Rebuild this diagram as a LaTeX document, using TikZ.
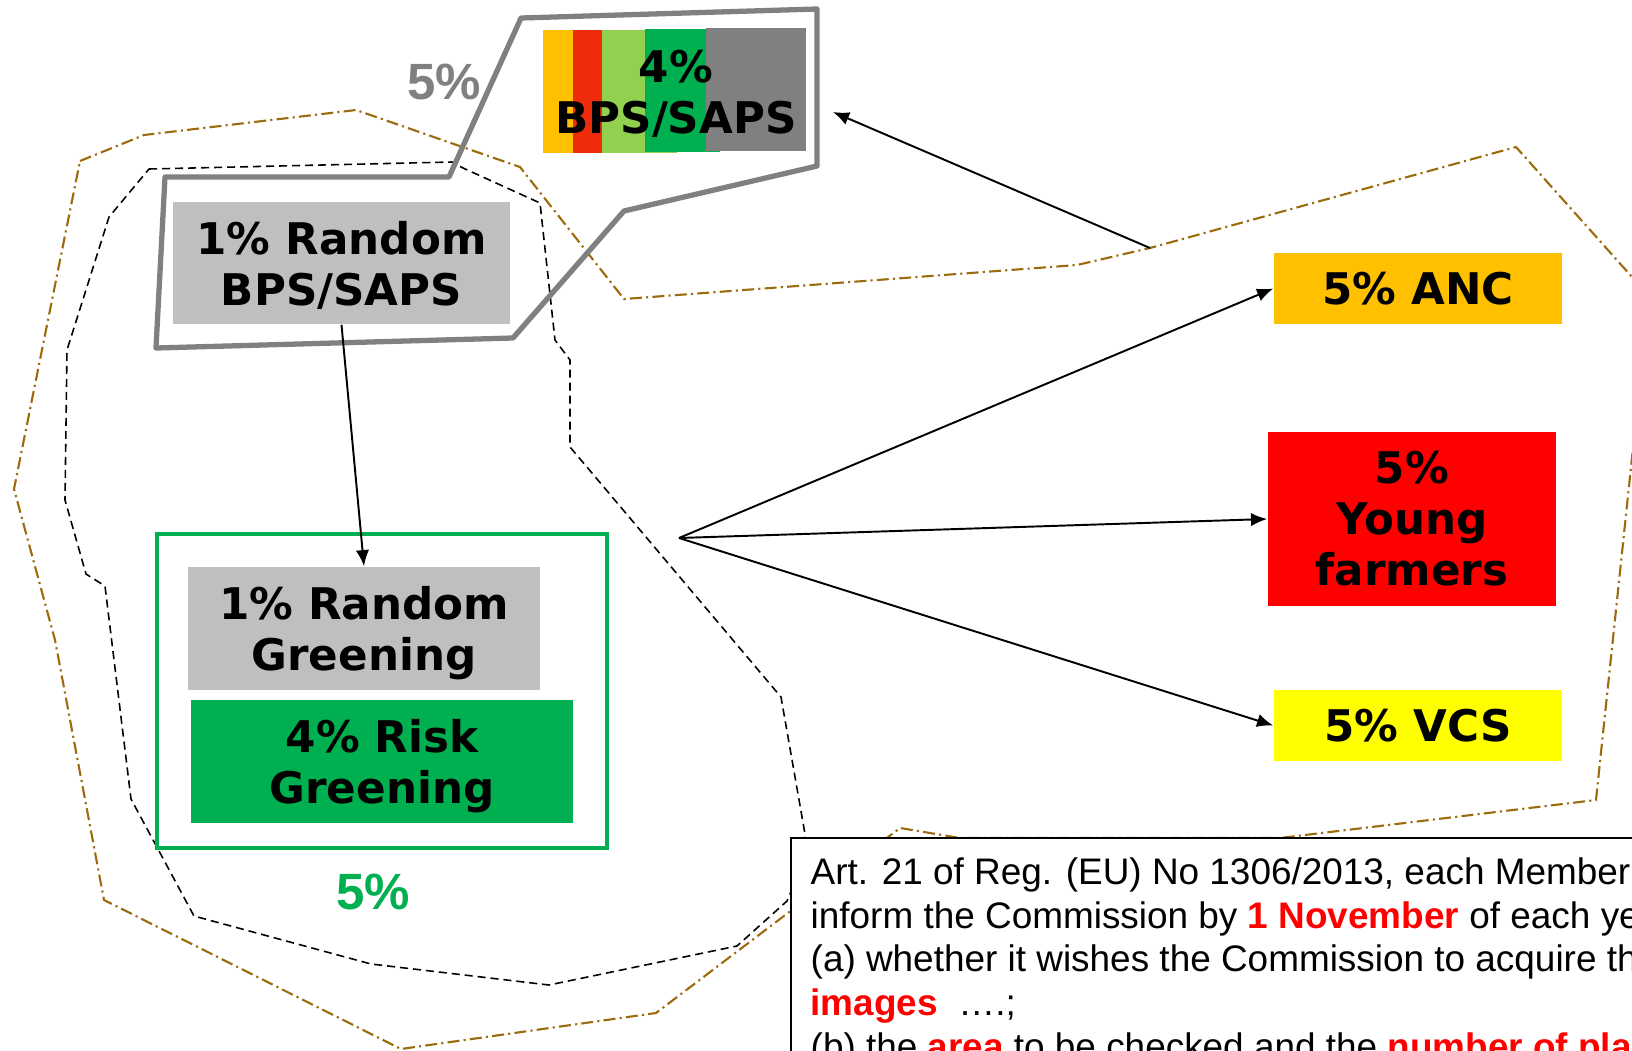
\documentclass[tikz,border=0pt]{standalone}
\usepackage{fontspec}
\usetikzlibrary{arrows.meta}
\newfontfamily\vfont{DejaVu Sans}
\newfontfamily\afont{Liberation Sans}
\newcommand\zdp[1]{\raisebox{0pt}[\height][0pt]{#1}}
\definecolor{cyel}{HTML}{FFC000}
\definecolor{cred}{HTML}{EE2C0C}
\definecolor{clgreen}{HTML}{92D050}
\definecolor{cgreen}{HTML}{00B050}
\definecolor{cgray}{HTML}{808080}
\definecolor{clgray}{HTML}{BFBFBF}
\definecolor{cbrown}{HTML}{9C6B0E}
\definecolor{yfred}{HTML}{FF0000}
\definecolor{vcsyel}{HTML}{FFFF00}
\tikzset{
 boxtxt/.style={font=\vfont\bfseries\fontsize{12.4}{14.5}\selectfont, align=center, text=black},
 fillbox/.style={boxtxt, inner sep=0pt, anchor=center},
 arr/.style={-{Latex[length=4.6pt,width=3.8pt]}, line width=0.55pt, black},
 outerline/.style={cbrown, line width=0.6pt, dash pattern=on 3.4pt off 1.2pt on 0.6pt off 1.2pt},
 innerline/.style={black, line width=0.45pt, dash pattern=on 2.3pt off 1.4pt},
 pct/.style={font=\afont\bfseries\fontsize{14.5}{16}\selectfont, inner sep=0pt},
 notetxt/.style={font=\afont\fontsize{10.5}{12.5}\selectfont, anchor=base west, inner sep=0pt},
}
\begin{document}
\begin{tikzpicture}[x=0.01cm,y=-0.01cm]
\useasboundingbox (0,0) rectangle (1632,1051);
\clip (0,0) rectangle (1632,1051);
\fill[white] (0,0) rectangle (1632,1051);

% outer dash-dot outline
\draw[outerline] (80,161) -- (144,135) -- (356,110) -- (520,167) -- (624,299) -- (1077,265) -- (1150,248) -- (1516,147) -- (1649,296) -- (1596,800) -- (1280,838) -- (960,838) -- (900,828) -- (656,1013) -- (401,1049) -- (104,900) -- (55,640) -- (14,489) -- cycle;

% inner dashed outline
\draw[innerline] (149,169) -- (452,162) -- (463,168) -- (540,203) -- (555,340) -- (570,360) -- (570,447) -- (781,697) -- (805,834) -- (800,870) -- (787,901) -- (737,946) -- (549,985) -- (371,964) -- (194,916) -- (131,799) -- (105,586) -- (86,574) -- (65,500) -- (67,350) -- (109,217) -- cycle;

% top colour bars
\fill[cyel] (543,30) rectangle (573,153);
\fill[cred] (573,30) rectangle (602,153);
\fill[clgreen] (602,30) rectangle (677,153);
\fill[cgreen] (645,29) rectangle (720,152);
\fill[cgray] (706,28) rectangle (806,151);
\node[boxtxt, inner sep=0pt] (bpstop) at (676,94) {4\%\\BPS/SAPS};

% grey callout polygon
\draw[cgray, line width=1.5pt, line join=round] (521,18) -- (817,9) -- (817,166) -- (624,211) -- (513,338) -- (156,348) -- (165,177) -- (449,177) -- cycle;
\node[pct, text=cgray] (g5) at (444,82) {5\%};

% boxes
\node[fillbox, fill=clgray, minimum width=3.37cm, minimum height=1.22cm] (rbps) at (341.5,263) {1\% Random\\\zdp{BPS/SAPS}};
\node[draw=cgreen, line width=1.15pt, minimum width=4.5cm, minimum height=3.14cm, inner sep=0pt] (gframe) at (382,691) {};
\node[fillbox, fill=clgray, minimum width=3.52cm, minimum height=1.23cm] (rgreen) at (364,628.5) {1\% Random\\\zdp{Greening}};
\node[fillbox, fill=cgreen, minimum width=3.82cm, minimum height=1.23cm] (riskg) at (382,761.5) {4\% Risk\\\zdp{Greening}};
\node[pct, text=cgreen] (gr5) at (373,892) {5\%};

\node[fillbox, fill=cyel, minimum width=2.88cm, minimum height=0.71cm] (anc) at (1418,288.5) {5\% ANC};
\node[fillbox, fill=yfred, minimum width=2.88cm, minimum height=1.74cm] (yf) at (1412,519) {5\%\\Young\\farmers};
\node[fillbox, fill=vcsyel, minimum width=2.88cm, minimum height=0.71cm] (vcs) at (1418,725.5) {5\% VCS};

% arrows
\draw[arr] (rbps.south) -- (rgreen.north);
\coordinate (topsrc) at (1150,248);
\coordinate (toptip) at (833,112);
\draw[arr] (topsrc) -- (toptip);
\coordinate (fan) at (679,538);
\draw[arr] (fan) -- (anc.west);
\draw[arr] (fan) -- (yf.west);
\draw[arr] (fan) -- (vcs.west);

% note box
\node[draw=black, fill=white, line width=0.6pt, anchor=north west, minimum width=9cm, minimum height=3cm, inner sep=0pt] (note) at (790,837) {};
\node[notetxt] (l1) at (810,884) {Art. 21 of Reg. (EU) No 1306/2013, each Member State shall};
\node[notetxt] (l2) at (810,928) {inform the Commission by \textcolor{yfred}{\bfseries 1 November} of each year};
\node[notetxt] (l3) at (810,971) {(a) whether it wishes the Commission to acquire the};
\node[notetxt] (l4) at (810,1015) {\textcolor{yfred}{\bfseries images}\ \ ….;};
\node[notetxt] (l5) at (810,1059) {(b) the \textcolor{yfred}{\bfseries area} to be checked and the \textcolor{yfred}{\bfseries number of places}};
\end{tikzpicture}
\end{document}
